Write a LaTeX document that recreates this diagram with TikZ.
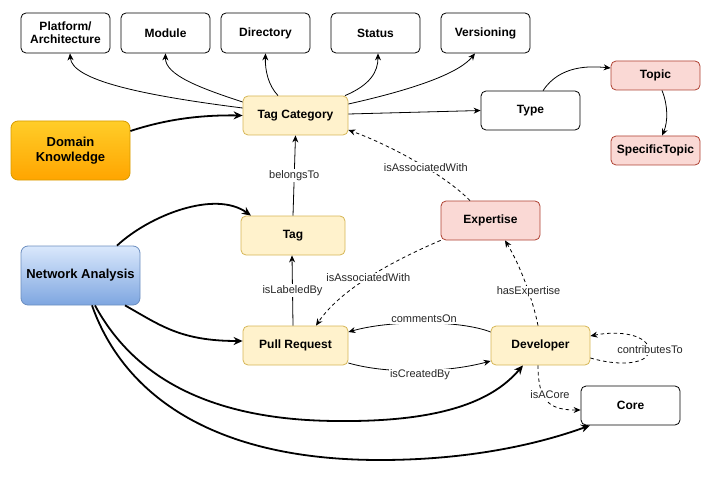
\documentclass[tikz,border=0pt]{standalone}
\usepackage{fontspec}
\setmainfont{Liberation Sans}
\usetikzlibrary{arrows.meta,shadings}
\definecolor{ylwfill}{HTML}{FFF2CC}
\definecolor{ylwdraw}{HTML}{D6B656}
\definecolor{redfill}{HTML}{FAD9D5}
\definecolor{reddraw}{HTML}{AE4132}
\definecolor{orgtop}{HTML}{FFCD28}
\definecolor{orgbot}{HTML}{FFA500}
\definecolor{orgdraw}{HTML}{D79B00}
\definecolor{blutop}{HTML}{DAE8FC}
\definecolor{blubot}{HTML}{7EA6E0}
\definecolor{bludraw}{HTML}{6C8EBF}
\tikzset{
  box/.style={draw=black, line width=0.8pt, rounded corners=5pt, align=center,
    font=\fontsize{12}{13}\selectfont\bfseries, inner sep=0pt},
  plain/.style={box, minimum width=89pt, minimum height=40pt},
  ybox/.style={box, draw=ylwdraw, fill=ylwfill, minimum width=105pt, minimum height=39pt},
  rbox/.style={box, draw=reddraw, fill=redfill},
  bigbox/.style={box, minimum width=119pt, minimum height=59pt, rounded corners=7pt, font=\fontsize{13}{15}\selectfont\bfseries},
  conn/.style={line width=0.8pt, -{Stealth[length=7pt,width=6pt]}},
  thk/.style={line width=1.8pt, -{Stealth[length=9pt,width=8pt]}},
  dsh/.style={conn, dashed, dash pattern=on 3.5pt off 3pt},
  lbl/.style={fill=white, inner sep=1pt, font=\fontsize{11}{12}\selectfont, text=black!85}
}
\begin{document}
\begin{tikzpicture}[x=1pt,y=-1pt]
\useasboundingbox (0,0) rectangle (711,481);
% nodes
\node[plain] (plat) at (65.5,33) {Platform/\\Architecture};
\node[plain] (mod) at (165.5,33) {Module};
\node[plain] (dir) at (265.5,33) {Directory};
\node[plain] (stat) at (375.5,33) {Status};
\node[plain] (vers) at (485.5,33) {Versioning};
\node[ybox] (tc) at (295.5,115.5) {Tag Category};
\node[bigbox, draw=orgdraw, top color=orgtop, bottom color=orgbot] (dk) at (70.5,150.5) {Domain\\Knowledge};
\node[plain, minimum width=99pt, minimum height=39pt] (type) at (530.5,110.5) {Type};
\node[rbox, minimum width=89pt, minimum height=29pt] (topic) at (655.5,75.5) {Topic};
\node[rbox, minimum width=89pt, minimum height=29pt] (spec) at (655.5,150.5) {SpecificTopic};
\node[ybox, minimum width=104pt] (tag) at (293,235.5) {Tag};
\node[rbox, minimum width=99pt, minimum height=39pt] (exp) at (490.5,220.5) {Expertise};
\node[bigbox, draw=bludraw, top color=blutop, bottom color=blubot] (na) at (80.5,275.5) {Network Analysis};
\node[ybox] (pr) at (295.5,345.5) {Pull Request};
\node[ybox, minimum width=99pt] (dev) at (540.5,345.5) {Developer};
\node[plain, minimum width=99pt, minimum height=39pt] (core) at (630.5,405.5) {Core};
% tag category to top boxes
\draw[conn] (tc.west|-0,108) .. controls (140,95) and (72,80) .. (plat.south-|70,0);
\draw[conn] (tc.west|-0,102) .. controls (200,88) and (165,75) .. (mod.south);
\draw[conn] (tc.north-|278,0) .. controls (268,85) and (265,70) .. (dir.south);
\draw[conn] (tc.north-|345,0) .. controls (370,85) and (378,72) .. (stat.south-|378,0);
\draw[conn] (tc.east|-0,104) .. controls (420,88) and (460,72) .. (vers.south-|475,0);
\draw[conn] (tc.east|-0,114) -- (type.west);
\draw[conn] (type.north-|543,0) .. controls (560,65) and (590,66) .. (topic.west|-0,68);
\draw[conn] (topic.south-|662,0) .. controls (668,105) and (668,122) .. (spec.north-|662,0);
\draw[thk] (dk.east|-0,131) .. controls (170,118) and (205,115) .. (tc.west);
% tag relations
\draw[conn] (tag.north) -- node[lbl, pos=0.5] {belongsTo} (tc.south);
\draw[conn] (pr.north-|293,0) -- node[lbl, pos=0.5] {isLabeledBy} (tag.south-|292,0);
\draw[dsh] (exp.north-|470,0) .. controls (445,175) and (390,145) .. node[lbl, pos=0.42] {isAssociatedWith} (tc.east|-0,130);
\draw[dsh] (exp.south west) .. controls (390,262) and (340,290) .. node[lbl, pos=0.5] {isAssociatedWith} (pr.north-|316,0);
\draw[dsh] (dev.north-|538,0) .. controls (533,300) and (520,265) .. node[lbl, pos=0.4] {hasExpertise} (exp.south-|505,0);
\draw[conn] (dev.west|-0,332) .. controls (460,320) and (390,320) .. (pr.east|-0,332);
\node[lbl] (lco) at (424,319) {commentsOn};
\draw[conn] (pr.east|-0,363) .. controls (390,375) and (450,372) .. (dev.west|-0,361);
\node[lbl] (lcr) at (420,375) {isCreatedBy};
\coordinate (loop) at (649,350);
\draw[dsh, -] (dev.east|-0,358) .. controls (625,368) and (650,362) .. (loop);
\draw[dsh] (loop) .. controls (648,335) and (620,330) .. (dev.east|-0,336);
\node[lbl] (lct) at (650,350) {contributesTo};
\draw[dsh] (dev.south-|538,0) .. controls (538,402) and (550,410) .. (core.west|-0,410);
\node[lbl] (lac) at (550,395) {isACore};
% network analysis
\draw[thk] (na.north-|117,0) .. controls (150,215) and (215,190) .. (tag.north west-|251,0);
\draw[thk] (na.south-|125,0) .. controls (160,325) and (180,341) .. (pr.west|-0,341);
\coordinate (nadev) at (340,421);
\coordinate (nacore) at (380,460);
\draw[line width=1.8pt] (na.south-|95,0) .. controls (130,370) and (200,421) .. (nadev);
\draw[thk] (nadev) .. controls (460,422) and (500,392) .. (dev.south-|523,0);
\draw[line width=1.8pt] (na.south-|92,0) .. controls (120,385) and (200,460) .. (nacore);
\draw[thk] (nacore) .. controls (480,460) and (550,440) .. (core.south-|590,0);
\end{tikzpicture}
\end{document}
